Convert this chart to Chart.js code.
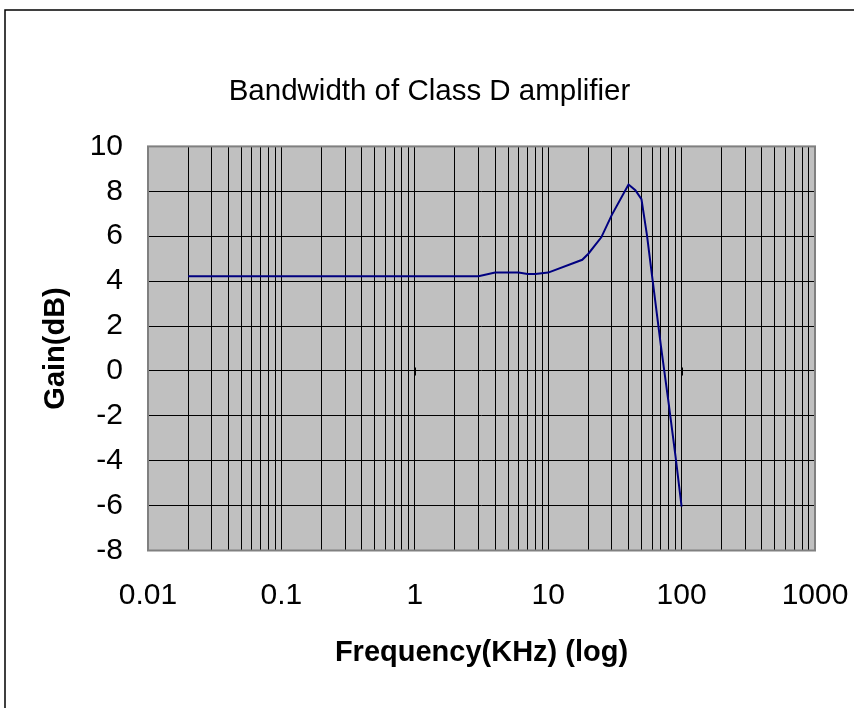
<!DOCTYPE html>
<html>
<head>
<meta charset="utf-8">
<script src="https://cdn.jsdelivr.net/npm/chart.js@4/dist/chart.umd.min.js"></script>
<style>
  html, body { margin: 0; padding: 0; background: #fff; }
  #wrap { width: 854px; height: 708px; position: relative; }
</style>
</head>
<body>
<div id="wrap"><canvas id="myChart"></canvas></div>
<script>
// frequency in KHz, gain in dB
var freqKHz = [0.02, 3, 4, 6, 7, 8, 10, 18, 20, 25, 30, 40, 45, 50, 55, 60, 70, 80, 90, 100];
var gainDb  = [4.22, 4.22, 4.38, 4.38, 4.32, 4.32, 4.38, 4.95, 5.22, 5.95, 6.95, 8.3, 8.05, 7.65, 6.05, 4.25, 1.1, -1.45, -3.8, -6.05];

var decades = [0.01, 0.1, 1, 10, 100];
var yTicks = [-8, -6, -4, -2, 0, 2, 4, 6, 8, 10];

var chartTitle = 'Bandwidth of Class D amplifier';
var xTitle = 'Frequency(KHz) (log)';
var yTitle = 'Gain(dB)';

var fontFamily = '"Liberation Sans", Arial, sans-serif';

// 1..9 per decade, labels only on the powers of ten
var xTickValues = [];
decades.forEach(d => {
    for (var m = 1; m < 10; m++) xTickValues.push(+(d * m).toPrecision(3));
});
xTickValues.push(1000);
var xLabelled = decades.concat([1000]);

var points = freqKHz.map((f, i) => ({x: f, y: gainDb[i]}));

var frame = {
    id: 'frame',
    beforeDraw(chart) {
        var c = chart.ctx, a = chart.chartArea;
        c.save();
        c.fillStyle = '#c0c0c0';
        c.fillRect(a.left, a.top, a.right - a.left, a.bottom - a.top);
        c.strokeStyle = '#000';
        c.lineWidth = 1.5;
        c.strokeRect(5, 10, 1000, 1000);
        c.restore();
    },
    afterDatasetsDraw(chart) {
        var c = chart.ctx, a = chart.chartArea;
        var xs = chart.scales.x, ys = chart.scales.y;
        c.save();
        // little tick marks where the axes cross at 0
        c.strokeStyle = '#000';
        c.lineWidth = 1;
        var y0 = Math.round(ys.getPixelForValue(0)) + 0.5;
        xLabelled.forEach(v => {
            var px = Math.round(xs.getPixelForValue(v)) + 0.5;
            c.beginPath(); c.moveTo(px, y0 - 4); c.lineTo(px, y0 + 4); c.stroke();
        });
        c.strokeStyle = '#808080';
        c.lineWidth = 2;
        c.strokeRect(a.left, a.top, a.right - a.left, a.bottom - a.top);
        c.restore();
    }
};

var ctx = document.getElementById('myChart').getContext('2d');

var myChart = new Chart(ctx, {
    type: 'line',
    data: {
        datasets: [{
            data: points,
            borderColor: '#000080',
            borderWidth: 2,
            pointRadius: 0,
            tension: 0,
            fill: false
        }]
    },
    options: {
        responsive: true,
        maintainAspectRatio: false,
        animation: false,
        events: [],
        layout: { padding: { left: 5, top: 10, right: 0, bottom: 17.5 } },
        plugins: {
            legend: { display: false },
            tooltip: { enabled: false },
            title: {
                display: true,
                text: chartTitle,
                color: '#000',
                font: { family: fontFamily, size: 29.5, weight: 'normal', lineHeight: 1.2 },
                padding: { top: 64, bottom: 37 }
            }
        },
        scales: {
            x: {
                type: 'logarithmic',
                min: 0.01,
                max: 1000,
                afterBuildTicks: scale => {
                    scale.ticks = xTickValues.map(v => ({value: v}));
                },
                afterFit: scale => {
                    scale.height = 140;
                    scale.paddingLeft = 0;
                    scale.paddingRight = 39;
                },
                ticks: {
                    autoSkip: false,
                    maxRotation: 0,
                    padding: 27,
                    color: '#000',
                    font: { family: fontFamily, size: 30 },
                    callback: v => xLabelled.indexOf(v) >= 0 ? String(v) : ''
                },
                grid: { color: '#000', lineWidth: 1, drawTicks: false },
                border: { display: false },
                title: {
                    display: true,
                    text: xTitle,
                    color: '#000',
                    font: { family: fontFamily, size: 29, weight: 'bold', lineHeight: 1.2 },
                    padding: { top: 0, bottom: 20 }
                }
            },
            y: {
                min: -8,
                max: 10,
                afterBuildTicks: scale => {
                    scale.ticks = yTicks.map(v => ({value: v}));
                },
                afterFit: scale => {
                    scale.width = 143;
                    scale.paddingTop = 0;
                    scale.paddingBottom = 0;
                },
                ticks: {
                    padding: 25,
                    color: '#000',
                    font: { family: fontFamily, size: 30 }
                },
                grid: { color: '#000', lineWidth: 1, drawTicks: false },
                border: { display: false },
                title: {
                    display: true,
                    text: yTitle,
                    color: '#000',
                    font: { family: fontFamily, size: 29, weight: 'bold', lineHeight: 1.2 },
                    padding: { top: 34, bottom: 0 }
                }
            }
        }
    },
    plugins: [frame]
});
</script>
</body>
</html>
